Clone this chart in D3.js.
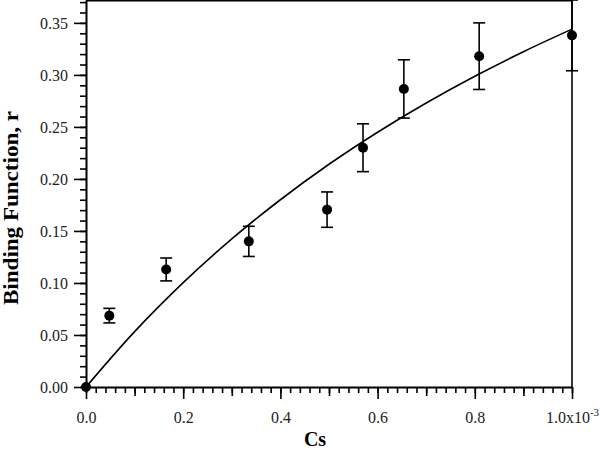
<!DOCTYPE html>
<html>
<head>
<meta charset="utf-8">
<script src="https://cdn.jsdelivr.net/npm/d3@7"></script>
<style>
  body { margin: 0; background: #fff; }
  text { font-family: "Liberation Serif", "Times New Roman", serif; }
</style>
</head>
<body>
<div id="chart"></div>
<script>
// measured points (Cs in units of 1e-3)
var csMilli = [0, 0.048, 0.165, 0.335, 0.496, 0.570, 0.654, 0.809, 1.0];
var rValues = [0.000, 0.0686, 0.113, 0.140, 0.1705, 0.230, 0.2865, 0.318, 0.338];
var rErrors = [0, 0.007, 0.011, 0.0145, 0.017, 0.023, 0.028, 0.032, 0.034];

// fitted curve
var fitCs = [0, 0.1, 0.2, 0.3, 0.4, 0.5, 0.6, 0.7, 0.8, 0.9, 1.0];
var fitR  = [0, 0.0532, 0.1003, 0.1424, 0.1800, 0.2141, 0.2449, 0.2730, 0.2987, 0.3223, 0.3440];

var yMajorTicks = [0, 0.05, 0.10, 0.15, 0.20, 0.25, 0.30, 0.35];
var xMajorTicks = [0, 0.2, 0.4, 0.6, 0.8, 1.0];

var serif = "Liberation Serif, Times New Roman, serif";

var margin = {top: 0, right: 28, bottom: 64, left: 86},
    width = 600 - margin.left - margin.right,
    height = 451 - margin.top - margin.bottom;

var svg = d3.select("#chart")
    .append("svg")
    .attr("width", 600)
    .attr("height", 451)
    .append("g")
    .attr("transform", "translate(" + margin.left + "," + margin.top + ")");

var x = d3.scaleLinear()
    .domain([0, 1.0])
    .range([0, width]);

var y = d3.scaleLinear()
    .domain([0, 0.372])
    .range([height, 0]);

// minor / medium ticks
var yMinor = d3.range(0, 0.3725, 0.01);
var xMinor = d3.range(0, 1.0001, 0.02);
var xMedium = [0.1, 0.3, 0.5, 0.7, 0.9];

svg.append("g")
    .attr("transform", "translate(0," + height + ")")
    .call(d3.axisBottom(x).tickValues(xMinor).tickSize(6).tickFormat(""))
    .call(g => g.select(".domain").remove());

svg.append("g")
    .attr("transform", "translate(0," + height + ")")
    .call(d3.axisBottom(x).tickValues(xMedium).tickSize(9).tickFormat(""))
    .call(g => g.select(".domain").remove());

var xAxis = svg.append("g")
    .attr("transform", "translate(0," + height + ")")
    .call(d3.axisBottom(x).tickValues(xMajorTicks).tickSize(12).tickSizeOuter(0)
        .tickFormat(d3.format(".1f")));

svg.append("g")
    .call(d3.axisLeft(y).tickValues(yMinor).tickSize(6).tickFormat(""))
    .call(g => g.select(".domain").remove());

var yAxis = svg.append("g")
    .call(d3.axisLeft(y).tickValues(yMajorTicks).tickSize(12).tickSizeOuter(0)
        .tickFormat(d3.format(".2f")));

xAxis.attr("font-family", serif);
yAxis.attr("font-family", serif);

svg.selectAll(".tick line").attr("stroke", "#000").attr("stroke-width", 1.6);
svg.selectAll(".domain").attr("stroke", "#000").attr("stroke-width", 2);

xAxis.selectAll(".tick text")
    .attr("font-size", 16)
    .attr("fill", "#222")
    .attr("y", 25)
    .attr("dy", "0.71em");

yAxis.selectAll(".tick text")
    .attr("font-size", 16)
    .attr("fill", "#222")
    .attr("x", -18);

// last x label gets the exponent
var lastLabel = xAxis.selectAll(".tick text").filter(d => d === 1.0);
lastLabel.text("1.0x10");
lastLabel.append("tspan")
    .attr("font-size", 11)
    .attr("dy", "-0.7em")
    .text("-3");

// frame top and right
svg.append("line")
    .attr("x1", 0).attr("x2", width)
    .attr("y1", 0).attr("y2", 0)
    .attr("stroke", "#000").attr("stroke-width", 3);
svg.append("line")
    .attr("x1", width).attr("x2", width)
    .attr("y1", 0).attr("y2", height)
    .attr("stroke", "#000").attr("stroke-width", 1.6);

// fit curve
var line = d3.line()
    .x((d, i) => x(fitCs[i]))
    .y((d, i) => y(fitR[i]))
    .curve(d3.curveMonotoneX);

svg.append("path")
    .datum(fitCs)
    .attr("d", line)
    .attr("fill", "none")
    .attr("stroke", "#000")
    .attr("stroke-width", 1.6);

// error bars
var idx = d3.range(csMilli.length).filter(i => rErrors[i] > 0);
var bars = svg.append("g")
    .selectAll("g")
    .data(idx)
    .enter()
    .append("g")
    .attr("stroke", "#000")
    .attr("stroke-width", 1.6);

bars.append("line")
    .attr("x1", i => x(csMilli[i])).attr("x2", i => x(csMilli[i]))
    .attr("y1", i => y(rValues[i] + rErrors[i]))
    .attr("y2", i => y(rValues[i] - rErrors[i]));
bars.append("line")
    .attr("x1", i => x(csMilli[i]) - 6).attr("x2", i => x(csMilli[i]) + 6)
    .attr("y1", i => y(rValues[i] + rErrors[i]))
    .attr("y2", i => y(rValues[i] + rErrors[i]));
bars.append("line")
    .attr("x1", i => x(csMilli[i]) - 6).attr("x2", i => x(csMilli[i]) + 6)
    .attr("y1", i => y(rValues[i] - rErrors[i]))
    .attr("y2", i => y(rValues[i] - rErrors[i]));

// points
svg.append("g")
    .selectAll("circle")
    .data(csMilli)
    .enter()
    .append("circle")
    .attr("cx", d => x(d))
    .attr("cy", (d, i) => y(rValues[i]))
    .attr("r", 5)
    .attr("fill", "#000");

// axis titles
svg.append("text")
    .attr("x", 229)
    .attr("y", 446)
    .attr("text-anchor", "middle")
    .attr("font-size", 20)
    .attr("font-weight", "bold")
    .attr("fill", "#000")
    .text("Cs");

svg.append("text")
    .attr("transform", "translate(-68," + 208 + ") rotate(-90)")
    .attr("text-anchor", "middle")
    .attr("font-size", 20)
    .attr("font-weight", "bold")
    .attr("fill", "#000")
    .attr("textLength", 194)
    .attr("lengthAdjust", "spacingAndGlyphs")
    .text("Binding Function, r");
</script>
</body>
</html>
